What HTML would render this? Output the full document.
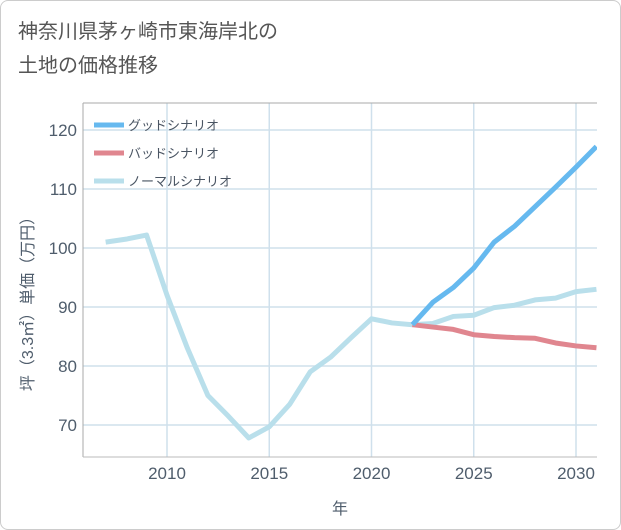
<!DOCTYPE html>
<html><head><meta charset="utf-8"><style>
body{margin:0;background:#fff;}
#wrap{position:relative;width:619px;height:528px;border:1px solid #ccc;border-radius:8px;background:#fff;overflow:hidden;font-family:"Liberation Sans","Noto Sans CJK JP",sans-serif;}
#title{position:absolute;left:17px;top:14px;font-size:20px;line-height:34px;color:#555;}
</style></head><body>
<div id="wrap">
<div id="title">神奈川県茅ヶ崎市東海岸北の<br>土地の価格推移</div>
<svg id="chart" width="621" height="530" style="position:absolute;left:-1px;top:-1px"></svg>
</div>
<script>
const years=[2007,2008,2009,2010,2011,2012,2013,2014,2015,2016,2017,2018,2019,2020,2021,2022,2023,2024,2025,2026,2027,2028,2029,2030,2031];
const normal=[101,101.5,102.2,92,83,75,71.5,67.8,69.7,73.5,79,81.5,84.8,88,87.3,87,87.2,88.4,88.6,89.9,90.3,91.2,91.5,92.6,93];
const goodYears=[2022,2023,2024,2025,2026,2027,2028,2029,2030,2031];
const good=[87,90.8,93.3,96.6,101,103.7,107,110.3,113.7,117.2];
const bad=[87,86.6,86.2,85.3,85,84.8,84.7,83.9,83.4,83.1];
const xTicks=[2010,2015,2020,2025,2030];
const yTicks=[70,80,90,100,110,120];
const legendLabels=["グッドシナリオ","バッドシナリオ","ノーマルシナリオ"];
const colors=["#66b9ef","#e0868f","#b9dfeb"];
const L=83,R=597,T=103,B=457;
const x=v=>167+(v-2010)*(576-167)/20;
const y=v=>425-(v-70)*(425-130)/50;
const svg=document.getElementById('chart');const NS='http://www.w3.org/2000/svg';
function mk(t,a,p){const e=document.createElementNS(NS,t);for(const k in a)e.setAttribute(k,a[k]);(p||svg).appendChild(e);return e;}
const bg=mk('rect',{x:L,y:T,width:R-L,height:B-T,fill:'#fff',stroke:'none'});


xTicks.forEach(v=>{const g=mk('line',{x1:x(v),x2:x(v),y1:T,y2:B,stroke:'#cfe0ec','stroke-width':1.5});

});
yTicks.forEach(v=>{const g=mk('line',{x1:L,x2:R,y1:y(v),y2:y(v),stroke:'#cfe0ec','stroke-width':1.5});

});
const ax=mk('line',{x1:L,x2:L,y1:T,y2:B,stroke:'#aaa'});


const ax3=mk('line',{x1:L,x2:R,y1:T,y2:T,stroke:'#aaa'});


const ax2=mk('line',{x1:L,x2:R,y1:B,y2:B,stroke:'#bbb'});


yTicks.forEach(v=>{const t=mk('text',{x:L-6,y:y(v)+6,'text-anchor':'end','font-size':17,fill:'#4f5d6c'});t.textContent=v;

});
xTicks.forEach(v=>{const t=mk('text',{x:x(v),y:B+22,'text-anchor':'middle','font-size':17,fill:'#4f5d6c'});t.textContent=v;

});
const xt=mk('text',{x:340,y:514,'text-anchor':'middle','font-size':16,fill:'#4f5d6c'});xt.textContent='年';


const yt=mk('text',{x:0,y:0,'text-anchor':'middle','font-size':16,fill:'#4f5d6c',transform:'translate(33,300) rotate(-90)'});yt.textContent='坪（3.3㎡）単価（万円）';


const clip=mk('clipPath',{id:'cp'});mk('rect',{x:L,y:T,width:R-L,height:B-T},clip);
function line(xs,vs,c,name){const d=xs.map((v,i)=>(i?'L':'M')+x(v)+','+y(vs[i])).join('');const p=mk('path',{d:d,fill:'none',stroke:c,'stroke-width':5,'stroke-linejoin':'round','clip-path':'url(#cp)'});

}
line(years,normal,colors[2],'normal-scenario-line');
line(goodYears,bad,colors[1],'bad-scenario-line');
line(goodYears,good,colors[0],'good-scenario-line');
legendLabels.forEach((s,i)=>{const ly=125+i*28;const l=mk('line',{x1:94,x2:124,y1:ly,y2:ly,stroke:colors[i],'stroke-width':5});


const t=mk('text',{x:128,y:ly+5,'font-size':13,fill:'#4a5563'});t.textContent=s;

});
</script>
</body></html>
